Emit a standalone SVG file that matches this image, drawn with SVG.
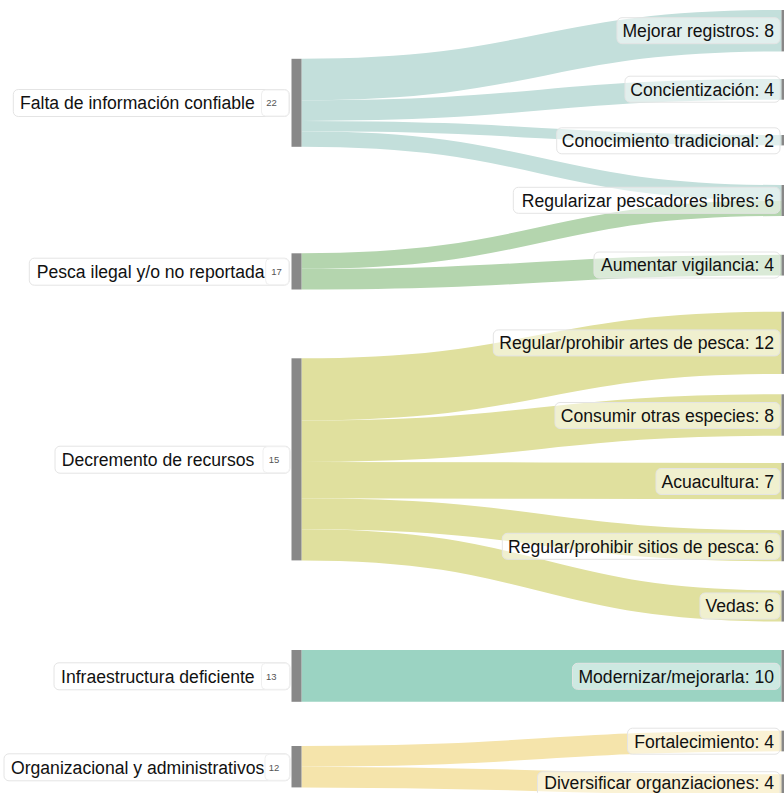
<svg xmlns="http://www.w3.org/2000/svg" width="784" height="793" viewBox="0 0 784 793">
<style>
.lk{fill:none}
.t{stroke:#c3dfdb}.g{stroke:#b4d5ae}.y{stroke:#e0e09e}.m{stroke:#9bd3c2}.o{stroke:#f5e4ab}
.bar{fill:#888888}
.lb{fill:#ffffff;stroke:#e4e4e4;stroke-width:1}
.nb{fill:#ffffff;stroke:#efefef;stroke-width:1}
.rb{fill:#ffffff;fill-opacity:0.5;stroke:#e4e4e4;stroke-width:1}
.tx{font-family:"Liberation Sans",Arial,Helvetica,sans-serif;font-size:17.6px;fill:#111111}
.nu{font-family:"Liberation Sans",Arial,Helvetica,sans-serif;font-size:9.5px;fill:#555555}
</style>
<rect width="784" height="793" fill="#ffffff"/>
<g id="connectors">
<path class="lk t" stroke-width="41.4" d="M301.5,79.5C541.5,79.5 541.5,30.7 781.5,30.7"/>
<path class="lk t" stroke-width="20.7" d="M301.5,110.55C541.5,110.55 541.5,89.35 781.5,89.35"/>
<path class="lk t" stroke-width="10.4" d="M301.5,126.1C541.5,126.1 541.5,140.2 781.5,140.2"/>
<path class="lk t" stroke-width="15.5" d="M301.5,139.05C541.5,139.05 541.5,192.75 781.5,192.75"/>
<path class="lk g" stroke-width="15.5" d="M301.5,261.05C541.5,261.05 541.5,208.25 781.5,208.25"/>
<path class="lk g" stroke-width="20.7" d="M301.5,279.15C541.5,279.15 541.5,265.2 781.5,265.2"/>
<path class="lk y" stroke-width="62.2" d="M301.5,389.4C541.5,389.4 541.5,342.8 781.5,342.8"/>
<path class="lk y" stroke-width="41.4" d="M301.5,441.2C541.5,441.2 541.5,415 781.5,415"/>
<path class="lk y" stroke-width="36.3" d="M301.5,480.05C541.5,480.05 541.5,481.1 781.5,481.1"/>
<path class="lk y" stroke-width="31.1" d="M301.5,513.75C541.5,513.75 541.5,545.7 781.5,545.7"/>
<path class="lk y" stroke-width="31.1" d="M301.5,544.85C541.5,544.85 541.5,606 781.5,606"/>
<path class="lk m" stroke-width="51.8" d="M301.5,675.9C541.5,675.9 541.5,675.9 781.5,675.9"/>
<path class="lk o" stroke-width="20.7" d="M301.5,756.35C541.5,756.35 541.5,741 781.5,741"/>
<path class="lk o" stroke-width="20.7" d="M301.5,777.05C541.5,777.05 541.5,784.7 781.5,784.7"/>
</g>
<g id="n-falta">
<rect class="bar" x="291.5" y="58.8" width="10" height="88"/>
<rect class="lb" x="13.3" y="89.5" width="276" height="27" rx="5"/>
<rect class="nb" x="261.5" y="90" width="27.3" height="26" rx="4"/>
<text class="tx" x="20" y="109.3">Falta de información confiable</text>
<text class="nu" x="266.2" y="106">22</text>
</g>
<g id="n-pesca">
<rect class="bar" x="291.5" y="253.3" width="10" height="36.2"/>
<rect class="lb" x="29.3" y="258.2" width="260" height="27" rx="5"/>
<rect class="nb" x="265.7" y="258.7" width="23.1" height="26" rx="4"/>
<text class="tx" x="36.7" y="278">Pesca ilegal y/o no reportada</text>
<text class="nu" x="271.2" y="275">17</text>
</g>
<g id="n-decremento">
<rect class="bar" x="291.5" y="358.3" width="10" height="202.1"/>
<rect class="lb" x="55" y="446.2" width="235" height="27" rx="5"/>
<rect class="nb" x="263" y="446.7" width="26.5" height="26" rx="4"/>
<text class="tx" x="61.7" y="466">Decremento de recursos</text>
<text class="nu" x="268.8" y="463">15</text>
</g>
<g id="n-infra">
<rect class="bar" x="291.5" y="650" width="10" height="51.8"/>
<rect class="lb" x="54" y="662.8" width="236" height="27" rx="5"/>
<rect class="nb" x="261.5" y="663.3" width="28" height="26" rx="4"/>
<text class="tx" x="61" y="682.6">Infraestructura deficiente</text>
<text class="nu" x="266" y="679.5">13</text>
</g>
<g id="n-org">
<rect class="bar" x="291.5" y="746" width="10" height="41.4"/>
<rect class="lb" x="4" y="753.8" width="286" height="27" rx="5"/>
<rect class="nb" x="265" y="754.3" width="24.5" height="26" rx="4"/>
<text class="tx" x="11" y="773.6">Organizacional y administrativos</text>
<text class="nu" x="268.8" y="770.5">12</text>
</g>
<g id="n-mejorar">
<rect class="bar" x="781.5" y="10" width="10" height="41.4"/>
<rect class="rb" x="617" y="17.7" width="163" height="26" rx="5"/>
<text class="tx" x="774" y="37" text-anchor="end">Mejorar registros: 8</text>
</g>
<g id="n-concientizacion">
<rect class="bar" x="781.5" y="79" width="10" height="20.7"/>
<rect class="rb" x="625" y="76.2" width="155" height="26" rx="5"/>
<text class="tx" x="774" y="95.5" text-anchor="end">Concientización: 4</text>
</g>
<g id="n-conocimiento">
<rect class="bar" x="781.5" y="135" width="10" height="10.4"/>
<rect class="rb" x="556.7" y="127.8" width="223.3" height="26" rx="5"/>
<text class="tx" x="774" y="147.1" text-anchor="end">Conocimiento tradicional: 2</text>
</g>
<g id="n-regularizar">
<rect class="bar" x="781.5" y="185" width="10" height="31"/>
<rect class="rb" x="513.3" y="187.3" width="266.7" height="26" rx="5"/>
<text class="tx" x="774" y="206.6" text-anchor="end">Regularizar pescadores libres: 6</text>
</g>
<g id="n-aumentar">
<rect class="bar" x="781.5" y="254.85" width="10" height="20.7"/>
<rect class="rb" x="594" y="252" width="186" height="26" rx="5"/>
<text class="tx" x="774" y="271.3" text-anchor="end">Aumentar vigilancia: 4</text>
</g>
<g id="n-artes">
<rect class="bar" x="781.5" y="311.7" width="10" height="62.2"/>
<rect class="rb" x="493.3" y="329.9" width="286.7" height="26" rx="5"/>
<text class="tx" x="774" y="349.2" text-anchor="end">Regular/prohibir artes de pesca: 12</text>
</g>
<g id="n-consumir">
<rect class="bar" x="781.5" y="394.3" width="10" height="41.4"/>
<rect class="rb" x="555" y="402.5" width="225" height="26" rx="5"/>
<text class="tx" x="774" y="421.8" text-anchor="end">Consumir otras especies: 8</text>
</g>
<g id="n-acuacultura">
<rect class="bar" x="781.5" y="462.95" width="10" height="36.3"/>
<rect class="rb" x="656" y="468.5" width="124" height="26" rx="5"/>
<text class="tx" x="774" y="487.8" text-anchor="end">Acuacultura: 7</text>
</g>
<g id="n-sitios">
<rect class="bar" x="781.5" y="530.15" width="10" height="31.1"/>
<rect class="rb" x="502.3" y="533.3" width="277.7" height="26" rx="5"/>
<text class="tx" x="774" y="552.6" text-anchor="end">Regular/prohibir sitios de pesca: 6</text>
</g>
<g id="n-vedas">
<rect class="bar" x="781.5" y="590.45" width="10" height="31.1"/>
<rect class="rb" x="700" y="593" width="80" height="26" rx="5"/>
<text class="tx" x="774" y="612.3" text-anchor="end">Vedas: 6</text>
</g>
<g id="n-modernizar">
<rect class="bar" x="781.5" y="650" width="10" height="51.8"/>
<rect class="rb" x="572.5" y="663.3" width="207.5" height="26" rx="5"/>
<text class="tx" x="774" y="682.6" text-anchor="end">Modernizar/mejorarla: 10</text>
</g>
<g id="n-fortalecimiento">
<rect class="bar" x="781.5" y="730.65" width="10" height="20.7"/>
<rect class="rb" x="627.5" y="728.2" width="152.5" height="26" rx="5"/>
<text class="tx" x="774" y="747.5" text-anchor="end">Fortalecimiento: 4</text>
</g>
<g id="n-diversificar">
<rect class="bar" x="781.5" y="774.35" width="10" height="20.7"/>
<rect class="rb" x="537.5" y="771.7" width="242.5" height="26" rx="5"/>
<text class="tx" x="774" y="789" text-anchor="end">Diversificar organziaciones: 4</text>
</g>
</svg>
